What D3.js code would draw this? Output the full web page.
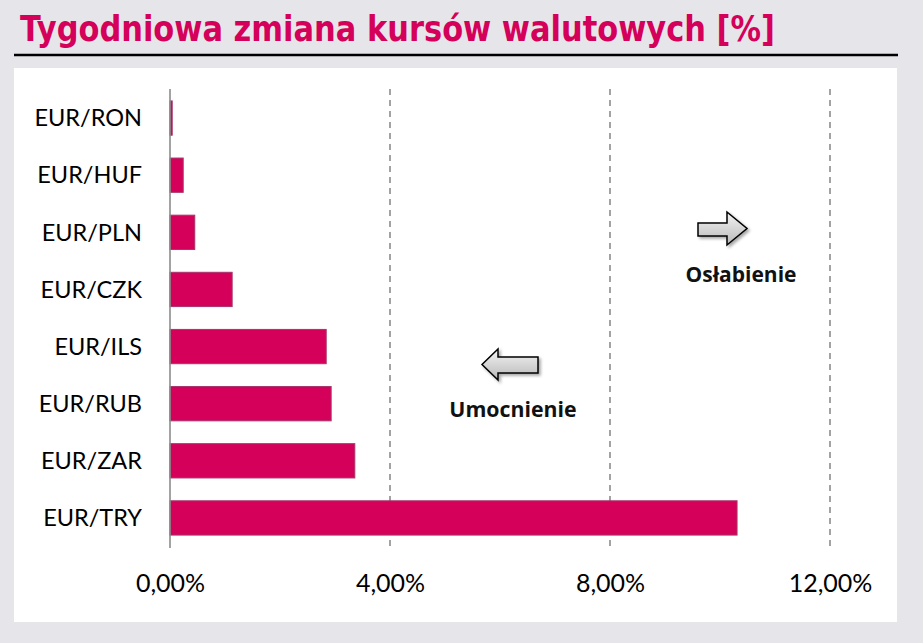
<!DOCTYPE html>
<html><head><meta charset="utf-8">
<script src="https://cdn.jsdelivr.net/npm/d3@7"></script>
<style>body{margin:0;background:#e6e6ea}svg{display:block}</style>
</head><body>
<script>
const categories = ["EUR/RON","EUR/HUF","EUR/PLN","EUR/CZK","EUR/ILS","EUR/RUB","EUR/ZAR","EUR/TRY"];
const values = [0.04, 0.24, 0.45, 1.13, 2.84, 2.93, 3.36, 10.31];
const tickValues = [0, 4, 8, 12];
const tickLabels = ["0,00%","4,00%","8,00%","12,00%"];
const title = "Tygodniowa zmiana kursów walutowych [%]";

const W = 923, H = 643;
const svg = d3.select("body").append("svg").attr("width", W).attr("height", H);
const defs = svg.append("defs");
const g1 = defs.append("linearGradient").attr("id","ag").attr("x1",0).attr("y1",0).attr("x2",0).attr("y2",1);
g1.append("stop").attr("offset","0%").attr("stop-color","#f4f4f4");
g1.append("stop").attr("offset","100%").attr("stop-color","#b8b8b8");
const f = defs.append("filter").attr("id","sh").attr("x","-20%").attr("y","-20%").attr("width","150%").attr("height","150%");
f.append("feDropShadow").attr("dx",2).attr("dy",2).attr("stdDeviation",1.5).attr("flood-color","#000").attr("flood-opacity",0.35);

svg.append("rect").attr("width",W).attr("height",H).attr("fill","#e6e6ea");
svg.append("rect").attr("x",14).attr("y",68).attr("width",883).attr("height",554).attr("fill","#ffffff");

svg.append("text").attr("x",20).attr("y",41).text(title)
  .attr("font-family","'DejaVu Sans Condensed','DejaVu Sans',sans-serif").attr("font-weight","bold")
  .attr("font-size",35).attr("fill","#d4005a").attr("textLength",755).attr("lengthAdjust","spacingAndGlyphs");
svg.append("line").attr("x1",14).attr("x2",898).attr("y1",55).attr("y2",55).attr("stroke","#000").attr("stroke-width",2.5);

const x = d3.scaleLinear().domain([0,12]).range([170,830]);
const y = d3.scaleBand().domain(categories).range([89.5,546.5]).paddingInner(0.4).paddingOuter(0.2);

// gridlines
svg.append("g").selectAll("line").data(tickValues.filter(d=>d>0)).join("line")
  .attr("x1",d=>x(d)).attr("x2",d=>x(d)).attr("y1",89).attr("y2",547)
  .attr("stroke","#8c8c8c").attr("stroke-width",1.6).attr("stroke-dasharray","6,5");

// bars
svg.append("g").selectAll("rect").data(values).join("rect")
  .attr("x",x(0)).attr("y",(d,i)=>y(categories[i]))
  .attr("width",d=>x(d)-x(0)).attr("height",y.bandwidth())
  .attr("fill","#d4005a").attr("stroke","#a8336a").attr("stroke-width",1);

// y axis line
svg.append("line").attr("x1",170).attr("x2",170).attr("y1",89).attr("y2",548).attr("stroke","#8c8c8c").attr("stroke-width",1.6);

// x tick labels
const xAxis = d3.axisBottom(x).tickValues(tickValues).tickFormat((d,i)=>tickLabels[i]).tickSize(0).tickPadding(0);
const xg = svg.append("g").attr("transform","translate(0,592)").call(xAxis);
xg.select(".domain").remove();
xg.selectAll("text").attr("font-family","Lato,'Open Sans',sans-serif").attr("font-size",25).attr("fill","#000").attr("dy",0);

// y labels
const yAxis = d3.axisLeft(y).tickSize(0).tickPadding(0);
const yg = svg.append("g").attr("transform","translate(142,0)").call(yAxis);
yg.select(".domain").remove();
yg.selectAll("text").attr("font-family","Lato,'Open Sans',sans-serif").attr("font-size",23.5).attr("fill","#000").attr("dy","0.35em");

// arrows
function arrow(pts){
  svg.append("path").attr("d", d3.line()(pts)+"Z").attr("fill","url(#ag)").attr("stroke","#000").attr("stroke-width",1.5).attr("filter","url(#sh)");
}
arrow([[698,223],[727,223],[727,212],[747,228.5],[727,245],[727,236],[698,236]]);
arrow([[538,357],[498,357],[498,349],[482,364.5],[498,380],[498,373],[538,373]]);

svg.append("text").attr("x",741).attr("y",282).attr("text-anchor","middle").text("Osłabienie")
  .attr("font-family","'Open Sans',Lato,sans-serif").attr("font-weight","bold").attr("font-size",21).attr("fill","#111");
svg.append("text").attr("x",513).attr("y",417).attr("text-anchor","middle").text("Umocnienie")
  .attr("font-family","'Open Sans',Lato,sans-serif").attr("font-weight","bold").attr("font-size",21.3).attr("fill","#111");
</script>
</body></html>
